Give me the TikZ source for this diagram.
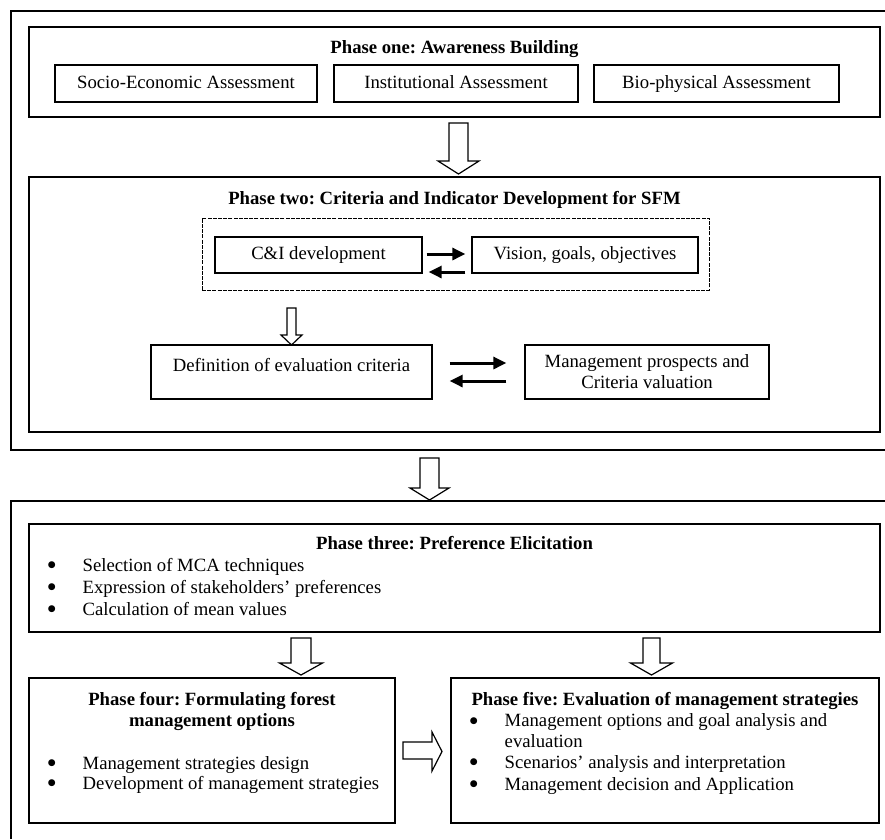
\documentclass[tikz,border=0pt]{standalone}
\usepackage{fontspec}
\setmainfont{Liberation Serif}
\newfontfamily\symfont{DejaVu Sans}
\usetikzlibrary{arrows.meta}
\newcommand\dgfont{\fontsize{18.7pt}{21pt}\selectfont\frenchspacing}
\newcommand\bul{\makebox[35.3pt][l]{\hspace*{0.5pt}\raisebox{3.3pt}{\symfont\fontsize{9pt}{9pt}\selectfont ●}}}
% hollow block arrow pointing down: cx, top, head start, tip, shaft half width, head half width
\newcommand\downblock[6]{%
  \draw[hollow] (#1-#5,#2) -- (#1+#5,#2) -- (#1+#5,#3) -- (#1+#6,#3) -- (#1,#4)
    -- (#1-#6,#3) -- (#1-#5,#3) -- cycle;}
\begin{document}
\begin{tikzpicture}[x=1pt,y=-1pt,
  every node/.style={font=\dgfont},
  box/.style={draw,line width=1.3pt,inner sep=0pt,align=center},
  one/.style={text height=13pt,text depth=4pt},
  outer/.style={line width=1.3pt},
  dbox/.style={draw,line width=1pt,dash pattern=on 4pt off 1.2pt,inner sep=0pt},
  blk/.style={line width=3pt,-{Triangle[length=13pt,width=12pt]}},
  hollow/.style={draw,line width=1.2pt,fill=white,line join=miter},
  ttl/.style={font=\dgfont\bfseries,inner sep=0pt,anchor=base},
  txt/.style={inner sep=0pt,anchor=base west},
]
\useasboundingbox (0,0) rectangle (885,839);
\fill[white] (0,0) rectangle (885,839);

% outer frames (cut by the right edge)
\draw[outer] (885,11) -- (11,11) -- (11,450) -- (885,450);
\draw[outer] (885,501) -- (11,501) -- (11,839);

% Phase one
\node[box,minimum width=851pt,minimum height=90pt] (p1) at (454.5,72) {};
\node[ttl] (p1t) at (454.5,53) {Phase one: Awareness Building};
\node[box,one,minimum width=262pt,minimum height=37pt] (se) at (186,83.5) {Socio-Economic Assessment};
\node[box,one,minimum width=244pt,minimum height=37pt] (ia) at (456,83.5) {Institutional Assessment};
\node[box,one,minimum width=245pt,minimum height=37pt] (bp) at (716.5,83.5) {Bio-physical Assessment};

\downblock{458.5}{123}{161}{174}{9.5}{20.5}

% Phase two
\node[box,minimum width=851pt,minimum height=255pt] (p2) at (454.5,304.5) {};
\node[ttl] (p2t) at (454.5,204) {Phase two: Criteria and Indicator Development for SFM};
\node[dbox,minimum width=507pt,minimum height=72pt] (dsh) at (455.5,254) {};
\node[box,one,minimum width=207pt,minimum height=36pt] (ci) at (318.5,255) {C\&I development};
\node[box,one,minimum width=226pt,minimum height=36pt] (vis) at (585,255) {Vision, goals, objectives};
\draw[blk,shorten <=4pt,shorten >=6pt] ([yshift=1pt]ci.east) -- ([yshift=1pt]vis.west);
\draw[blk,shorten <=6pt,shorten >=6pt] ([yshift=-17pt]vis.west) -- ([yshift=-17pt]ci.east);

\downblock{291.5}{308}{335}{345}{4.5}{10.5}

\node[box,minimum width=281pt,minimum height=54pt,text height=13pt,text depth=15pt] (def) at (291.5,372) {Definition of evaluation criteria};
\node[box,minimum width=244pt,minimum height=54pt] (mp) at (647,372) {Management prospects and\\Criteria valuation};
\draw[blk,shorten <=17pt,shorten >=18pt] ([yshift=9pt]def.east) -- ([yshift=9pt]mp.west);
\draw[blk,shorten <=18pt,shorten >=17pt] ([yshift=-9pt]mp.west) -- ([yshift=-9pt]def.east);

\downblock{429.5}{458}{488}{500}{9.5}{19.5}

% Phase three
\node[box,minimum width=851pt,minimum height=108pt] (p3) at (454.5,578) {};
\node[ttl] (p3t) at (454.5,549) {Phase three: Preference Elicitation};
\node[txt] (p3a) at (47.2,571) {\bul Selection of MCA techniques};
\node[txt] (p3b) at (47.2,593) {\bul Expression of stakeholders’ preferences};
\node[txt] (p3c) at (47.2,615) {\bul Calculation of mean values};

\downblock{301}{638}{663}{675}{10}{21.5}
\downblock{651.5}{638}{663}{675}{8.5}{21}

% Phase four
\node[box,minimum width=366pt,minimum height=145pt] (p4) at (212,750.5) {};
\node[font=\dgfont\bfseries,inner sep=0pt,align=center] (p4t) at (212,711) {Phase four: Formulating forest\\management options};
\node[txt] (p4a) at (47.2,769) {\bul Management strategies design};
\node[txt] (p4b) at (47.2,789) {\bul Development of management strategies};

% right block arrow
\draw[hollow] (403,742) -- (432,742) -- (432,732) -- (442,751.5) -- (432,771) -- (432,759) -- (403,759) -- cycle;

% Phase five
\node[box,minimum width=428pt,minimum height=145pt] (p5) at (665,750.5) {};
\node[ttl] (p5t) at (665,705) {Phase five: Evaluation of management strategies};
\node[inner sep=0pt,align=left,anchor=north west] (p5a) at (469.2,713.2) {\bul Management options and goal analysis and\\\hspace*{35.3pt}evaluation};
\node[txt] (p5b) at (469.2,768) {\bul Scenarios’ analysis and interpretation};
\node[txt] (p5c) at (469.2,790) {\bul Management decision and Application};
\end{tikzpicture}
\end{document}
